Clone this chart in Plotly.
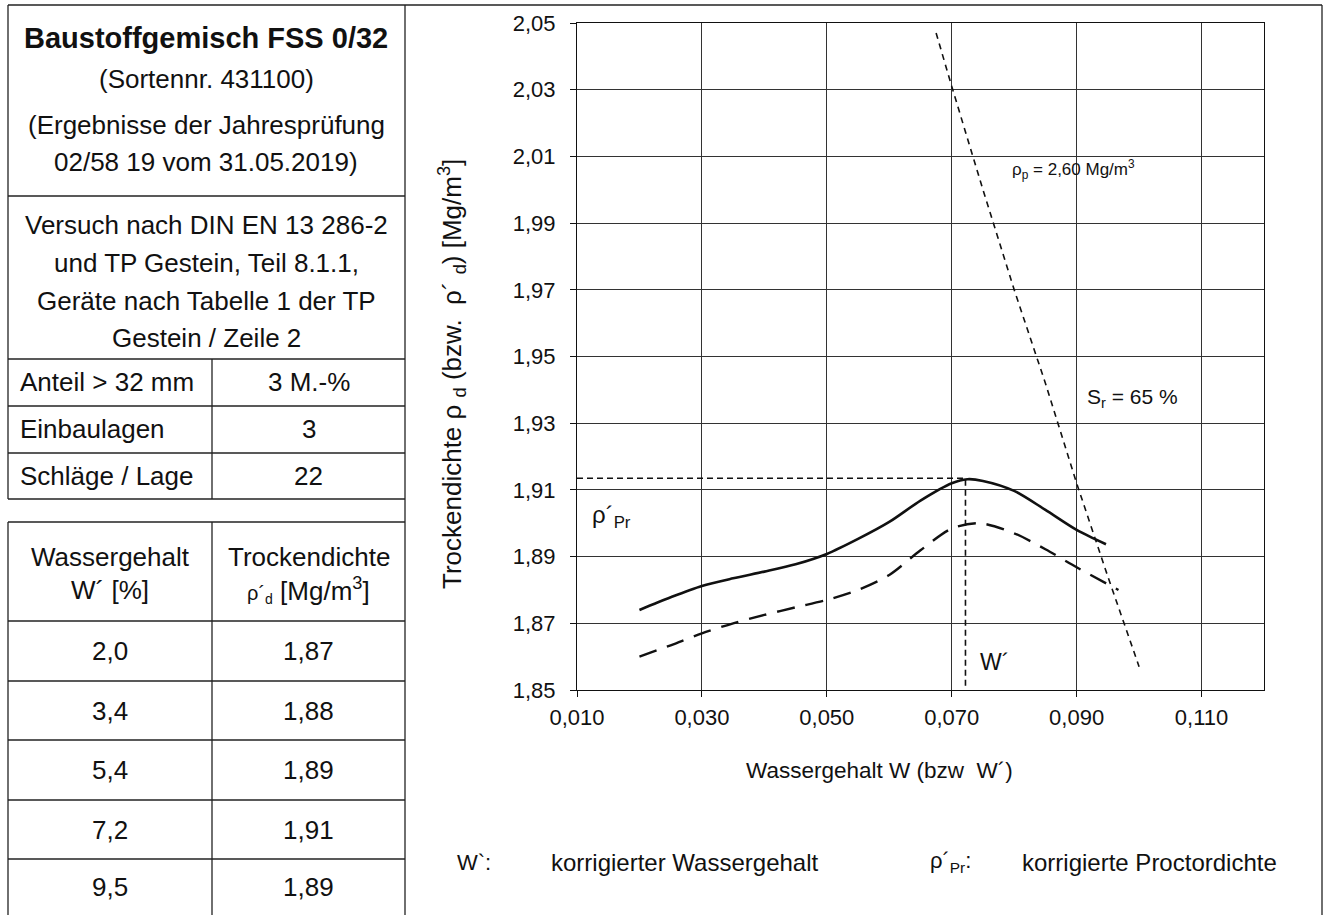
import plotly.graph_objects as go

W, H = 1325, 915
FONT = "Liberation Sans, Arial, sans-serif"

# ---------------- data ----------------
# corrected Proctor curve (solid)
w_corr = [0.020, 0.025, 0.030, 0.035, 0.040, 0.045, 0.050, 0.055, 0.060, 0.065,
          0.070, 0.0725, 0.075, 0.080, 0.085, 0.090, 0.0947]
rho_corr = [1.8740, 1.8778, 1.8812, 1.8835, 1.8855, 1.8877, 1.8908, 1.8953, 1.9004, 1.9068,
            1.9120, 1.9132, 1.9127, 1.9097, 1.9040, 1.8980, 1.8937]
# measured Proctor curve (long dashes)
w_meas = [0.020, 0.025, 0.030, 0.035, 0.040, 0.045, 0.050, 0.055, 0.060, 0.065,
          0.070, 0.0745, 0.080, 0.085, 0.090, 0.0967]
rho_meas = [1.8600, 1.8634, 1.8670, 1.8700, 1.8725, 1.8748, 1.8770, 1.8800, 1.8845, 1.8919,
            1.8984, 1.9000, 1.8970, 1.8922, 1.8868, 1.8800]
# saturation line Sr = 65 %, rho_p = 2,60 Mg/m3
w_sat = [0.0675, 0.070, 0.075, 0.080, 0.085, 0.090, 0.095, 0.100]
rho_sat = [2.047, 2.031, 2.000, 1.970, 1.942, 1.912, 1.884, 1.857]
# optimum (W', rho'_Pr)
w_opt = 0.0722
rho_opt = 1.9135

x_ticks = [0.010, 0.030, 0.050, 0.070, 0.090, 0.110]
y_ticks = [1.85, 1.87, 1.89, 1.91, 1.93, 1.95, 1.97, 1.99, 2.01, 2.03, 2.05]

title_lines = ["<b>Baustoffgemisch FSS 0/32</b>", "(Sortennr. 431100)",
               "(Ergebnisse der Jahresprüfung", "02/58 19 vom 31.05.2019)"]
method_lines = ["Versuch nach DIN EN 13 286-2", "und TP Gestein, Teil 8.1.1,",
                "Geräte nach Tabelle 1 der TP", "Gestein / Zeile 2"]
param_names = ["Anteil > 32 mm", "Einbaulagen", "Schläge / Lage"]
param_values = ["3 M.-%", "3", "22"]
table_w = ["2,0", "3,4", "5,4", "7,2", "9,5"]
table_rho = ["1,87", "1,88", "1,89", "1,91", "1,89"]

# ---------------- layout helpers ----------------
def px(x):
    return x / W

def py(y):
    return 1 - y / H

X0, X1 = 577, 1264   # plot area pixels
Y0, Y1 = 23, 690

fig = go.Figure()

fig.add_trace(go.Scatter(x=w_corr, y=rho_corr, mode="lines",
                         line=dict(color="#111", width=2.6, shape="spline", smoothing=0.8),
                         showlegend=False, name="ρ´d"))
fig.add_trace(go.Scatter(x=w_meas, y=rho_meas, mode="lines",
                         line=dict(color="#111", width=2.4, shape="spline", smoothing=0.8, dash="18px,11px"),
                         showlegend=False, name="ρd"))
fig.add_trace(go.Scatter(x=w_sat, y=rho_sat, mode="lines",
                         line=dict(color="#111", width=1.6, dash="6px,5px"), showlegend=False, name="Sr"))
fig.add_trace(go.Scatter(x=[0.010, w_opt, w_opt], y=[rho_opt, rho_opt, 1.851], mode="lines",
                         line=dict(color="#111", width=1.6, dash="6px,4px"), showlegend=False, name="opt"))

axis_common = dict(showline=True, linecolor="#111", linewidth=1.2, mirror=True, automargin=False,
                   showgrid=True, gridcolor="#333", gridwidth=1, zeroline=False,
                   ticks="outside", ticklen=6, tickcolor="#111",
                   tickfont=dict(family=FONT, size=22, color="#111"))

fig.update_layout(
    template="none",
    width=W, height=H, autosize=False,
    margin=dict(l=0, r=0, t=0, b=0, pad=0),
    paper_bgcolor="white", plot_bgcolor="white",
    separators=", ",
    showlegend=False,
    font=dict(family=FONT, color="#111"),
    xaxis=dict(domain=[px(X0), px(X1)], range=[0.010, 0.120], tickvals=x_ticks,
               tickformat=".3f", ticklabelstandoff=1, **axis_common),
    yaxis=dict(domain=[py(Y1), py(Y0)], range=[1.85, 2.05], tickvals=y_ticks,
               tickformat=".2f", ticklabelstandoff=10, **axis_common),
)

shapes = []

def hline(y, x0, x1, w=1.3):
    shapes.append(dict(type="line", xref="paper", yref="paper", x0=px(x0), x1=px(x1), y0=py(y), y1=py(y),
                       line=dict(color="#222", width=w)))

def vline(x, y0, y1, w=1.3):
    shapes.append(dict(type="line", xref="paper", yref="paper", x0=px(x), x1=px(x), y0=py(y0), y1=py(y1),
                       line=dict(color="#222", width=w)))

LX, RX, MX = 8, 405, 212
hline(5, LX, 1322)
for yy in [196, 359, 406, 453, 499, 522, 621, 681, 740, 800, 859]:
    hline(yy, LX, RX)
vline(LX, 5, 499)
vline(LX, 522, 915)
vline(RX, 5, 915)
vline(1322, 5, 915)
vline(MX, 359, 499)
vline(MX, 522, 915)
fig.update_layout(shapes=shapes)

ann = []

def text(x, y, s, size=26, xanchor="center", angle=0, xref="paper", yref="paper"):
    ann.append(dict(x=x, y=y, xref=xref, yref=yref, text=s, showarrow=False,
                    xanchor=xanchor, yanchor="middle", textangle=angle,
                    font=dict(family=FONT, size=size, color="#111")))

TS = 26
# header block
for s, yy, sz in zip(title_lines, [38, 79, 125, 162], [29, TS, TS, TS]):
    text(px((LX + RX) / 2), py(yy), s, size=sz)
for s, yy in zip(method_lines, [225, 263, 301, 338]):
    text(px((LX + RX) / 2), py(yy), s, size=TS)
for name, val, yy in zip(param_names, param_values, [382, 429, 476]):
    text(px(18), py(yy), name, size=TS, xanchor="left")
    text(px((MX + RX) / 2), py(yy), val, size=TS)
# data table header
text(px((LX + MX) / 2), py(557), "Wassergehalt", size=TS)
text(px((LX + MX) / 2), py(590), "W´ [%]", size=TS)
text(px((MX + RX) / 2), py(557), "Trockendichte", size=TS)
text(px((MX + RX) / 2), py(590), "<span style='font-size:20px'>ρ´<sub>d</sub></span> [Mg/m<sup>3</sup>]", size=TS)
row_bounds = [621, 681, 740, 800, 859, 915]
for i, (wv, rv) in enumerate(zip(table_w, table_rho)):
    yc = (row_bounds[i] + row_bounds[i + 1]) / 2
    text(px((LX + MX) / 2), py(yc), wv, size=TS)
    text(px((MX + RX) / 2), py(yc), rv, size=TS)

# axis titles
text(px(879), py(770), "Wassergehalt W (bzw  W´)", size=22.5)
text(px(452), py(374), "Trockendichte ρ <sub>d</sub> (bzw.  ρ´ <sub>d</sub>) [Mg/m<sup>3</sup>]", size=26, angle=-90)

# in-plot labels
text(0.0793, 2.006, "ρ<sub>p</sub> = 2,60 Mg/m<sup>3</sup>", size=17, xanchor="left", xref="x", yref="y")
text(0.0913, 1.9375, "S<sub>r</sub> = 65 %", size=21, xanchor="left", xref="x", yref="y")
text(0.0121, 1.9020, "ρ´<sub>Pr</sub>", size=24, xanchor="left", xref="x", yref="y")
text(0.0742, 1.8583, "W´", size=23, xanchor="left", xref="x", yref="y")

# footer legend
text(px(455), py(862), "W`:", size=22, xanchor="left")
text(px(549), py(862), "korrigierter Wassergehalt", size=24, xanchor="left")
text(px(928), py(862), "ρ´<sub>Pr</sub>:", size=22, xanchor="left")
text(px(1020), py(862), "korrigierte Proctordichte", size=24, xanchor="left")

fig.update_layout(annotations=ann)

fig.write_html("out.html", config={"displayModeBar": False},
               post_script="document.body.style.margin='0';document.body.style.padding='0';")
